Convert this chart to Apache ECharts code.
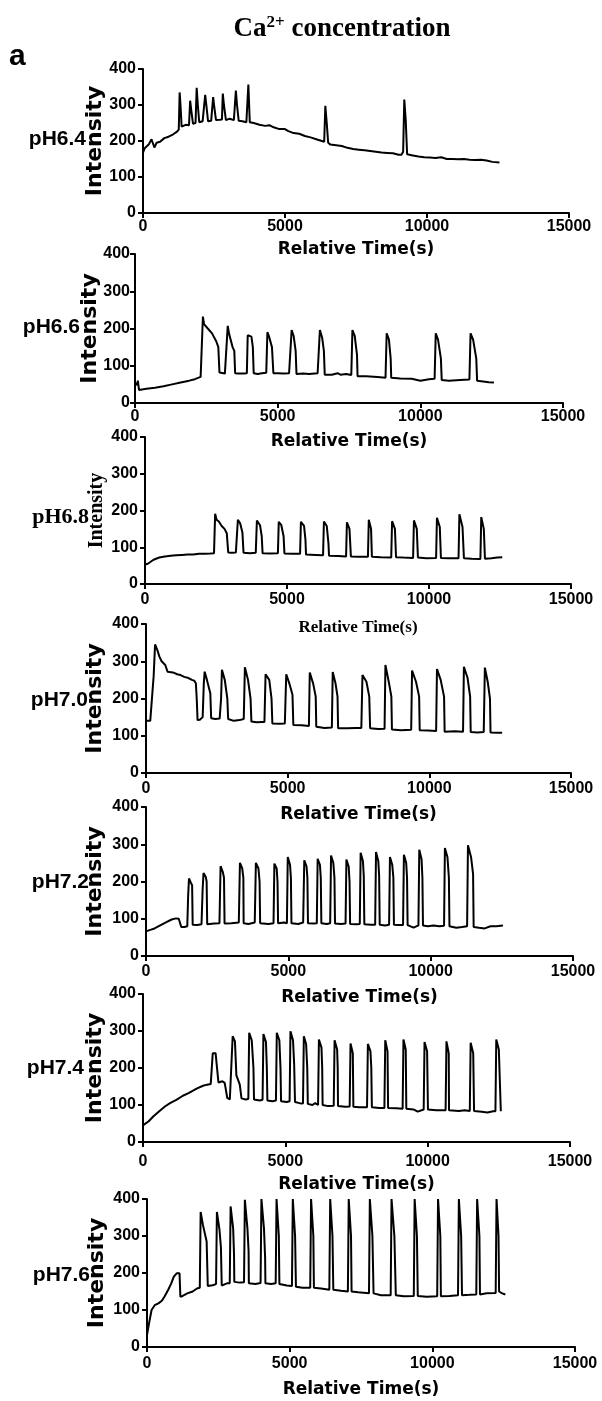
<!DOCTYPE html>
<html>
<head>
<meta charset="utf-8">
<script src="https://cdn.jsdelivr.net/npm/echarts@6/dist/echarts.min.js"></script>
<style>
html,body{margin:0;padding:0;background:#fff;}
#main{width:602px;height:1401px;}
</style>
</head>
<body>
<div id="main"></div>
<script type="text/javascript">
// tick labels / axis ranges
var xTicks = [0, 5000, 10000, 15000];
var yTicks = [0, 100, 200, 300, 400];
var phLabels = ['pH6.4', 'pH6.6', 'pH6.8', 'pH7.0', 'pH7.2', 'pH7.4', 'pH7.6'];

// pH6.4
var t64 = [0,60,120,200,300,340,400,480,600,750,900,1050,1200,1260,1290,1320,1360,1420,1500,1620,1660,1700,1760,1850,1890,1930,1980,2100,2160,2190,2230,2290,2400,2440,2470,2510,2570,2700,2780,2810,2850,2920,3050,3200,3240,3270,3310,3370,3500,3640,3680,3710,3760,3900,4100,4300,4450,4600,4800,5000,5100,5300,5500,5700,5900,6100,6300,6380,6420,6470,6520,6600,6800,7000,7200,7400,7600,7800,8000,8200,8400,8600,8800,9000,9100,9160,9200,9250,9300,9500,9700,9900,10100,10300,10500,10700,10900,11100,11300,11500,11700,11900,12100,12300,12550];
var v64 = [168,180,185,190,205,210,182,195,198,208,212,218,226,232,335,300,240,235,245,244,312,285,248,250,348,300,252,255,256,328,300,255,256,258,322,295,258,259,260,332,300,258,262,258,262,340,300,256,255,252,256,357,252,250,245,242,244,238,233,233,228,222,220,214,210,205,200,198,298,250,195,190,188,186,181,178,176,174,172,170,168,167,166,162,162,170,315,260,163,160,157,155,154,153,155,150,150,149,150,148,147,148,146,142,140];

// pH6.6
var t66 = [0,40,80,100,140,200,400,700,1000,1300,1600,1900,2100,2300,2350,2380,2420,2550,2700,2850,2920,2960,3000,3150,3220,3250,3300,3420,3480,3510,3600,3800,3920,3950,4080,4130,4160,4300,4450,4600,4640,4700,4800,4850,5000,5200,5400,5460,5490,5560,5630,5660,5900,6100,6400,6450,6480,6560,6620,6650,6900,7100,7200,7400,7580,7620,7700,7780,7800,8100,8500,8780,8820,8900,8960,8980,9300,9700,10000,10300,10500,10540,10620,10720,10750,11000,11400,11720,11760,11850,11960,11990,12200,12400,12580];
var v66 = [55,58,48,60,35,36,38,41,45,50,55,60,64,70,72,232,212,200,187,165,150,82,78,79,80,207,185,150,140,80,79,79,80,182,178,150,80,78,80,81,190,178,150,80,80,79,80,85,196,180,140,78,79,78,80,85,196,175,140,76,76,80,76,78,75,196,180,130,72,72,70,68,187,170,120,68,66,65,60,64,65,187,170,120,62,60,62,63,187,170,120,60,58,56,55];

// pH6.8
var t68 = [0,100,300,500,700,900,1100,1300,1500,1700,1900,2100,2300,2430,2470,2520,2600,2700,2800,2880,2930,3050,3200,3240,3270,3350,3430,3470,3700,3900,3940,4050,4110,4140,4400,4680,4710,4800,4880,4910,5200,5460,5490,5600,5650,5670,6000,6270,6300,6400,6460,6480,6800,7080,7110,7200,7250,7500,7850,7880,7960,7990,8300,8670,8700,8800,8840,9100,9440,9470,9570,9610,9900,10250,10280,10380,10420,10700,11040,11070,11180,11230,11500,11810,11840,11930,11970,12200,12400,12580];
var v68 = [53,55,66,72,75,77,78,79,80,80,82,82,83,84,191,175,170,158,150,138,86,85,86,86,175,165,140,85,84,85,173,160,130,84,83,84,169,160,130,83,82,82,169,158,120,80,79,78,170,158,110,77,76,75,168,150,75,74,74,175,150,74,73,72,171,150,73,72,71,173,150,72,70,71,180,155,71,70,70,190,155,70,69,68,182,150,69,70,72,73];

// pH7.0
var t70 = [0,150,220,270,320,350,400,470,550,680,760,820,950,1100,1220,1350,1500,1620,1700,1760,1790,1820,1900,2000,2040,2070,2150,2270,2300,2450,2600,2650,2680,2780,2870,2900,3100,3300,3450,3490,3600,3690,3720,3900,4100,4180,4220,4350,4430,4460,4700,4900,4950,5060,5170,5200,5500,5750,5780,5900,5990,6010,6300,6560,6590,6690,6760,6780,7100,7400,7600,7640,7780,7880,7910,8200,8420,8450,8580,8660,8680,9000,9360,9390,9530,9640,9660,9950,10240,10270,10400,10520,10540,10900,11190,11220,11350,11440,11460,11700,11920,11960,12060,12140,12160,12400,12570];
var v70 = [140,140,143,260,345,348,330,313,300,290,272,268,270,265,263,258,255,250,248,241,200,142,143,150,240,272,250,214,147,145,146,200,277,250,200,145,140,142,145,284,250,200,138,136,137,137,265,250,200,133,132,133,265,240,210,129,128,126,270,240,205,124,121,122,271,240,205,120,120,121,121,263,245,205,120,118,119,290,240,205,117,115,116,275,245,205,115,114,113,279,250,205,111,112,111,285,255,205,110,109,110,283,245,200,109,108,108];

// pH7.2
var t72 = [0,150,300,500,700,900,1050,1150,1210,1240,1350,1450,1480,1510,1580,1620,1640,1800,1950,1990,2020,2100,2130,2150,2400,2580,2620,2700,2740,2760,3000,3260,3300,3380,3420,3430,3600,3820,3860,3950,3990,4010,4300,4480,4510,4590,4620,4640,4850,4950,4980,5060,5090,5110,5350,5520,5560,5640,5670,5690,5900,6000,6030,6110,6140,6160,6350,6470,6500,6580,6620,6640,6850,7010,7040,7120,7150,7170,7400,7510,7540,7620,7650,7670,7900,8050,8080,8160,8190,8210,8400,8540,8570,8650,8690,8710,8900,9030,9060,9140,9170,9190,9400,9570,9600,9680,9710,9730,9900,10100,10300,10470,10500,10590,10640,10660,10900,11100,11280,11310,11420,11490,11510,11700,11900,12100,12300,12540];
var v72 = [66,70,74,82,90,98,101,100,98,78,78,80,160,208,196,190,84,83,85,180,223,212,200,85,87,88,241,225,210,87,88,90,250,235,210,88,86,90,250,235,200,88,86,88,248,235,200,88,90,88,266,245,210,88,86,90,257,240,210,88,87,88,261,245,210,88,86,88,270,250,210,87,86,87,259,240,200,86,85,86,277,255,215,85,84,84,279,255,215,84,82,84,266,245,210,84,83,83,272,250,210,83,76,82,285,260,210,82,80,82,80,81,290,265,210,80,76,78,80,297,265,220,78,76,74,80,80,82];

// pH7.4
var t74 = [0,200,360,550,770,950,1170,1400,1600,1710,1900,2110,2250,2380,2420,2450,2550,2620,2650,2720,2790,2870,2920,2960,3050,3100,3150,3230,3280,3330,3400,3460,3600,3700,3730,3820,3880,3900,4100,4200,4230,4320,4350,4370,4550,4670,4700,4790,4830,4850,5050,5150,5180,5270,5310,5340,5500,5620,5650,5730,5770,5790,5950,6050,6150,6180,6270,6295,6310,6500,6700,6730,6820,6840,6850,7100,7260,7290,7370,7390,7600,7870,7900,7990,8020,8040,8300,8480,8510,8590,8610,8900,9120,9150,9230,9250,9500,9650,9860,9890,9980,10010,10300,10630,10660,10740,10750,11100,11300,11480,11510,11600,11630,11900,12100,12300,12380,12410,12500,12570];
var v74 = [45,56,69,82,96,105,114,125,132,137,145,152,155,157,160,240,240,238,161,163,164,160,155,119,115,118,286,272,180,170,155,118,115,116,295,275,200,115,112,114,292,270,200,112,110,112,295,275,200,110,108,110,299,275,210,108,105,104,286,265,200,103,100,105,100,277,255,200,100,97,98,275,250,200,97,95,96,266,240,95,94,94,265,245,200,94,92,92,275,245,92,91,90,277,250,90,88,82,88,270,245,88,86,86,272,240,86,84,86,84,268,240,84,82,80,83,83,277,250,83];

// pH7.6
var t76 = [0,70,160,270,400,520,610,740,850,940,1040,1140,1170,1250,1410,1600,1750,1850,1880,1960,2090,2130,2300,2420,2450,2540,2590,2620,2800,2900,2930,3020,3050,3060,3250,3400,3430,3520,3560,3570,3800,3980,4010,4100,4140,4150,4350,4510,4540,4620,4640,4900,5080,5110,5190,5220,5450,5720,5750,5830,5850,6100,6390,6420,6500,6530,6800,7040,7070,7150,7170,7400,7780,7810,7900,7940,8200,8540,8570,8670,8720,9000,9350,9380,9460,9490,9800,10170,10200,10280,10300,10600,10900,10930,11010,11040,11300,11540,11570,11650,11670,11900,12220,12250,12320,12340,12450,12560];
var v76 = [32,63,100,113,118,125,136,154,172,190,199,199,136,138,145,150,158,160,365,330,285,165,167,170,365,317,270,166,172,172,380,320,250,176,174,175,398,320,260,172,170,173,400,320,240,172,170,172,400,300,170,166,165,400,300,163,160,160,400,300,160,158,155,400,300,155,152,150,400,300,150,148,145,400,300,145,140,140,400,300,140,137,138,400,300,138,136,137,400,300,137,138,140,400,300,140,141,142,400,300,142,145,146,400,300,150,145,142];

var allT = [t64, t66, t68, t70, t72, t74, t76];
var allV = [v64, v66, v68, v70, v72, v74, v76];

// layout of each panel (pixels)
var panels = [
  {left:143, width:426, top:69,   height:144, xLabelMargin:6,  xNameGap:28, yNameGap:37, yLabelMargin:7, serif:false, phX:86, phY:139},
  {left:135, width:428, top:254,  height:149, xLabelMargin:6,  xNameGap:30, yNameGap:34, yLabelMargin:5, serif:false, phX:80, phY:327},
  {left:145, width:426, top:437,  height:147, xLabelMargin:8,  xNameGap:35, yNameGap:38, yLabelMargin:7, serif:true,  phX:89, phY:517},
  {left:146, width:425, top:624,  height:149, xLabelMargin:8,  xNameGap:33, yNameGap:40, yLabelMargin:7, serif:false, phX:88, phY:700},
  {left:146, width:427, top:807,  height:149, xLabelMargin:8,  xNameGap:33, yNameGap:40, yLabelMargin:7, serif:false, phX:89, phY:882},
  {left:143, width:427, top:994,  height:148, xLabelMargin:12, xNameGap:34, yNameGap:37, yLabelMargin:7, serif:false, phX:84, phY:1068},
  {left:147, width:428, top:1199, height:148, xLabelMargin:9,  xNameGap:34, yNameGap:39, yLabelMargin:7, serif:false, phX:90, phY:1275}
];

var sans = 'Liberation Sans, Arial, sans-serif';
var wide = 'DejaVu Sans, sans-serif';
var serif = 'Liberation Serif, Times New Roman, serif';

var grids = [], xAxes = [], yAxes = [], series = [], texts = [];
panels.forEach(function (p, i) {
  grids.push({left: p.left, width: p.width, top: p.top, height: p.height});
  xAxes.push({
    type: 'value', gridIndex: i, min: xTicks[0], max: xTicks[xTicks.length - 1], interval: xTicks[1] - xTicks[0],
    name: 'Relative Time(s)', nameLocation: 'middle', nameGap: p.xNameGap,
    nameTextStyle: p.serif ? {fontFamily: serif, fontWeight: 'bold', fontSize: 17, color: '#000'}
                           : {fontFamily: wide, fontWeight: 'bold', fontSize: 17, color: '#000'},
    axisLine: {show: true, lineStyle: {color: '#000', width: 2}},
    axisTick: {show: true, length: 5, lineStyle: {color: '#000', width: 2}},
    axisLabel: {color: '#000', fontFamily: sans, fontWeight: 'bold', fontSize: 16, margin: p.xLabelMargin,
                formatter: function (v) { return String(v); }},
    splitLine: {show: false}
  });
  yAxes.push({
    type: 'value', gridIndex: i, min: yTicks[0], max: yTicks[yTicks.length - 1], interval: yTicks[1] - yTicks[0],
    name: 'Intensity', nameLocation: 'middle', nameGap: p.yNameGap, nameMoveOverlap: false,
    nameTextStyle: p.serif ? {fontFamily: serif, fontWeight: 'bold', fontSize: 20, color: '#000'}
                           : {fontFamily: wide, fontWeight: 'bold', fontSize: 22, color: '#000'},
    axisLine: {show: true, lineStyle: {color: '#000', width: 2}},
    axisTick: {show: true, length: 5, lineStyle: {color: '#000', width: 2}},
    axisLabel: {color: '#000', fontFamily: sans, fontWeight: 'bold', fontSize: 16, margin: p.yLabelMargin},
    splitLine: {show: false}
  });
  series.push({
    type: 'line', xAxisIndex: i, yAxisIndex: i, showSymbol: false, silent: true,
    lineStyle: {color: '#000', width: 2},
    data: allT[i].map(function (t, k) { return [t, allV[i][k]]; })
  });
  texts.push({
    type: 'text', x: p.phX, y: p.phY,
    style: {text: phLabels[i], align: 'right', verticalAlign: 'middle', fill: '#000',
            font: 'bold ' + (p.serif ? '22px ' + serif : '21px ' + sans)}
  });
});

texts.push({type: 'text', x: 9, y: 57, style: {text: 'a', align: 'left', verticalAlign: 'middle', fill: '#000', font: 'bold 30px ' + sans}});
texts.push({
  type: 'text', x: 342, y: 29,
  style: {
    text: '{m|Ca}{s|2+}{m| concentration}', align: 'center', verticalAlign: 'middle', fill: '#000',
    rich: {
      m: {fontFamily: serif, fontWeight: 'bold', fontSize: 27, fill: '#000'},
      s: {fontFamily: serif, fontWeight: 'bold', fontSize: 17, fill: '#000', padding: [0, 0, 13, 0]}
    }
  }
});

var myChart = echarts.init(document.getElementById('main'));
var option = {
  animation: false,
  backgroundColor: '#fff',
  grid: grids,
  xAxis: xAxes,
  yAxis: yAxes,
  series: series,
  graphic: texts
};
myChart.setOption(option);
</script>
</body>
</html>
